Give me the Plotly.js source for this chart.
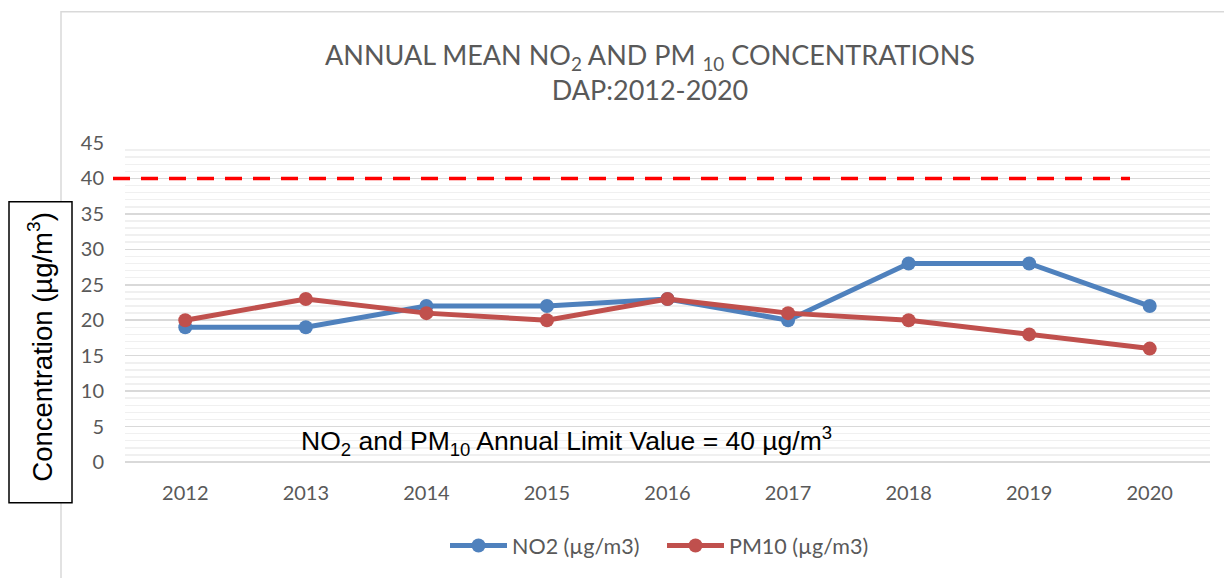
<!DOCTYPE html>
<html>
<head>
<meta charset="utf-8">
<script src="https://cdn.plot.ly/plotly-3.0.1.min.js"></script>
<style>html,body{margin:0;padding:0;background:#fff;}#chart{width:1224px;height:578px;}</style>
</head>
<body>
<div id="chart"></div>
<script>
const years = ['2012','2013','2014','2015','2016','2017','2018','2019','2020'];
const no2 = [19, 19, 22, 22, 23, 20, 28, 28, 22];
const pm10 = [20, 23, 21, 20, 23, 21, 20, 18, 16];
const limitValue = 40;
const seriesNames = ['NO2 (µg/m3)', 'PM10 (µg/m3)'];

const L = 125, R = 1210, T = 143, B = 464;
const px = x => (x - L) / (R - L);
const py = y => (B - y) / (B - T);

const traces = [
  {x: years, y: no2, name: seriesNames[0], type: 'scatter', mode: 'lines+markers',
   line: {color: '#4f81bd', width: 5}, marker: {color: '#4f81bd', size: 14}},
  {x: years, y: pm10, name: seriesNames[1], type: 'scatter', mode: 'lines+markers',
   line: {color: '#c0504d', width: 5}, marker: {color: '#c0504d', size: 14}}
];

const layout = {
  width: 1224, height: 578,
  margin: {l: L, r: 1224 - R, t: T, b: 578 - B},
  paper_bgcolor: '#ffffff', plot_bgcolor: '#ffffff',
  font: {family: 'Lato, sans-serif', color: '#595959'},
  title: {
    text: 'ANNUAL MEAN NO<sub>2</sub> AND PM <sub>10</sub> CONCENTRATIONS<br>DAP:2012-2020',
    font: {family: 'Lato, sans-serif', size: 27, color: '#595959'},
    x: px(650), xanchor: 'center', xref: 'paper',
    y: 1 - 65 / 578, yanchor: 'middle', yref: 'container'
  },
  xaxis: {
    type: 'category', range: [-0.5, 8.5],
    showgrid: false, showline: false, zeroline: false, ticks: '',
    tickfont: {family: 'Lato, sans-serif', size: 20, color: '#595959'},
    ticklabelstandoff: 17, fixedrange: true
  },
  yaxis: {
    range: [0, 45], dtick: 5, tick0: 0,
    showgrid: true, gridcolor: '#d9d9d9', gridwidth: 1.5,
    zeroline: true, zerolinecolor: '#d9d9d9', zerolinewidth: 1.5,
    showline: false, ticks: '',
    minor: {dtick: 1, showgrid: true, gridcolor: '#f0f0f0', gridwidth: 1.5},
    tickfont: {family: 'Lato, sans-serif', size: 20, color: '#595959'},
    ticklabelstandoff: 20, fixedrange: true
  },
  showlegend: true,
  legend: {
    orientation: 'h', x: px(662), xanchor: 'center', y: py(548), yanchor: 'middle',
    font: {family: 'Lato, sans-serif', size: 21.5, color: '#595959'},
    itemwidth: 57, traceorder: 'normal',
    entrywidth: 145, entrywidthmode: 'pixels'
  },
  shapes: [
    {type: 'rect', xref: 'paper', yref: 'paper', x0: px(61), x1: px(1240), y0: py(600), y1: py(11),
     line: {color: '#d9d9d9', width: 1.5}, fillcolor: 'rgba(0,0,0,0)', layer: 'below'},
    {type: 'line', xref: 'paper', yref: 'y', x0: px(113), x1: px(1130), y0: limitValue, y1: limitValue,
     line: {color: '#ff0000', width: 3.5, dash: '17px,11px'}},
    {type: 'rect', xref: 'paper', yref: 'paper', x0: px(9), x1: px(72), y0: py(505), y1: py(202),
     line: {color: '#000000', width: 1.5}, fillcolor: '#ffffff'}
  ],
  annotations: [
    {xref: 'paper', yref: 'paper', x: px(41), y: py(348), text: 'Concentration (µg/m<sup>3</sup>)',
     textangle: -90, showarrow: false, font: {family: 'Liberation Sans, Arial, sans-serif', size: 27.5, color: '#000000'},
     xanchor: 'center', yanchor: 'middle'},
    {xref: 'paper', yref: 'paper', x: px(566), y: py(443),
     text: 'NO<sub>2</sub> and PM<sub>10</sub> Annual Limit Value = ' + limitValue + ' µg/m<sup>3</sup>',
     showarrow: false, font: {family: 'Liberation Sans, Arial, sans-serif', size: 26.5, color: '#000000'},
     xanchor: 'center', yanchor: 'middle'}
  ]
};

Plotly.newPlot('chart', traces, layout, {displayModeBar: false, staticPlot: true});
</script>
</body>
</html>
